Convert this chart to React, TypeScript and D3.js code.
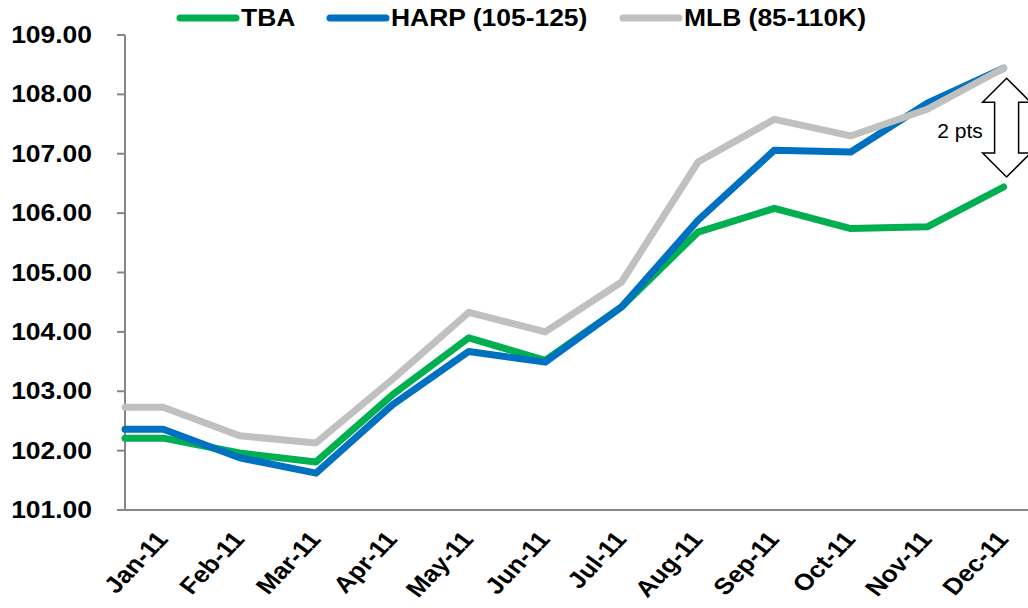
import React from "react";
import * as d3 from "d3";

const months = ["Jan-11","Feb-11","Mar-11","Apr-11","May-11","Jun-11","Jul-11","Aug-11","Sep-11","Oct-11","Nov-11","Dec-11"];
const tba = [102.21, 101.96, 101.81, 102.94, 103.90, 103.52, 104.42, 105.68, 106.08, 105.74, 105.77, 106.44];
const harp = [102.36, 101.88, 101.62, 102.77, 103.67, 103.49, 104.42, 105.88, 107.06, 107.03, 107.85, 108.44];
const mlb = [102.73, 102.25, 102.13, 103.20, 104.33, 104.00, 104.84, 106.86, 107.58, 107.30, 107.75, 108.44];
const yTicks = [101, 102, 103, 104, 105, 106, 107, 108, 109];
const seriesNames = ["TBA", "HARP (105-125)", "MLB (85-110K)"];
const seriesColors = ["#00B050", "#0070C0", "#C0C0C0"];
const annotation = "2 pts";

const W = 1028, H = 608;
const left = 125, top = 35, bottom = 510;
const band = 76.4;
const FONT = "'Liberation Sans', Arial, sans-serif";
const SX = 1.15;

export default function App() {
  const x = d3.scaleBand<string>().domain(months).range([left, left + band * months.length]).padding(0);
  const xc = (m: string) => (x(m) as number) + x.bandwidth() / 2;
  const y = d3.scaleLinear().domain([101, 109]).range([bottom, top]);
  const series = [tba, harp, mlb];
  const line = d3.line<[number, number]>().x(d => d[0]).y(d => d[1]).curve(d3.curveLinear);
  const pathFor = (vals: number[]) => {
    const pts: [number, number][] = [[left, y(vals[0])], ...vals.map((v, i) => [xc(months[i]), y(v)] as [number, number])];
    return line(pts) || "";
  };

  const legendX = [180, 330, 623];
  const legendY = 18;

  const last = months.length - 1;
  const ax = xc(months[last]) + 3;
  const aTop = y(mlb[last]) + 10;
  const aBot = y(tba[last]) - 10;
  const hw = 24, hh = 24, sw = 12;
  const arrow = [
    [ax, aTop], [ax + hw, aTop + hh], [ax + sw, aTop + hh], [ax + sw, aBot - hh], [ax + hw, aBot - hh],
    [ax, aBot], [ax - hw, aBot - hh], [ax - sw, aBot - hh], [ax - sw, aTop + hh], [ax - hw, aTop + hh]
  ].map(p => p.join(",")).join(" ");

  return (
    <svg width={W} height={H} style={{ position: "absolute", left: 0, top: 0, background: "#fff" }} fontFamily={FONT}>
      <line x1={left} x2={left} y1={top} y2={bottom} stroke="#868686" strokeWidth={2} />
      {yTicks.map(t => (
        <g key={t}>
          <line x1={left - 8} x2={left} y1={y(t)} y2={y(t)} stroke="#868686" strokeWidth={2} />
          <text transform={`translate(92,${y(t) + 8}) scale(${SX},1)`} textAnchor="end" fontSize={23} fontWeight="bold" fill="#000">
            {t.toFixed(2)}
          </text>
        </g>
      ))}
      <line x1={left} x2={W} y1={bottom} y2={bottom} stroke="#868686" strokeWidth={2} />
      {months.map(m => (
        <text key={m} transform={`translate(${xc(m) + 6},${bottom + 30}) scale(${SX},1) rotate(-50)`} textAnchor="end" fontSize={23} fontWeight="bold" fill="#000">
          {m}
        </text>
      ))}
      {series.map((s, i) => (
        <path key={i} d={pathFor(s)} fill="none" stroke={seriesColors[i]} strokeWidth={7} strokeLinejoin="round" strokeLinecap="round" />
      ))}
      <polygon points={arrow} fill="#fff" stroke="#000" strokeWidth={1.5} />
      <text x={960} y={138} textAnchor="middle" fontSize={21} fill="#000">{annotation}</text>
      {seriesNames.map((n, i) => (
        <g key={n}>
          <line x1={legendX[i]} x2={legendX[i] + 56} y1={legendY} y2={legendY} stroke={seriesColors[i]} strokeWidth={7} strokeLinecap="round" />
          <text transform={`translate(${legendX[i] + 61},${legendY + 8}) scale(${SX},1)`} fontSize={23} fontWeight="bold" fill="#000">{n}</text>
        </g>
      ))}
    </svg>
  );
}
